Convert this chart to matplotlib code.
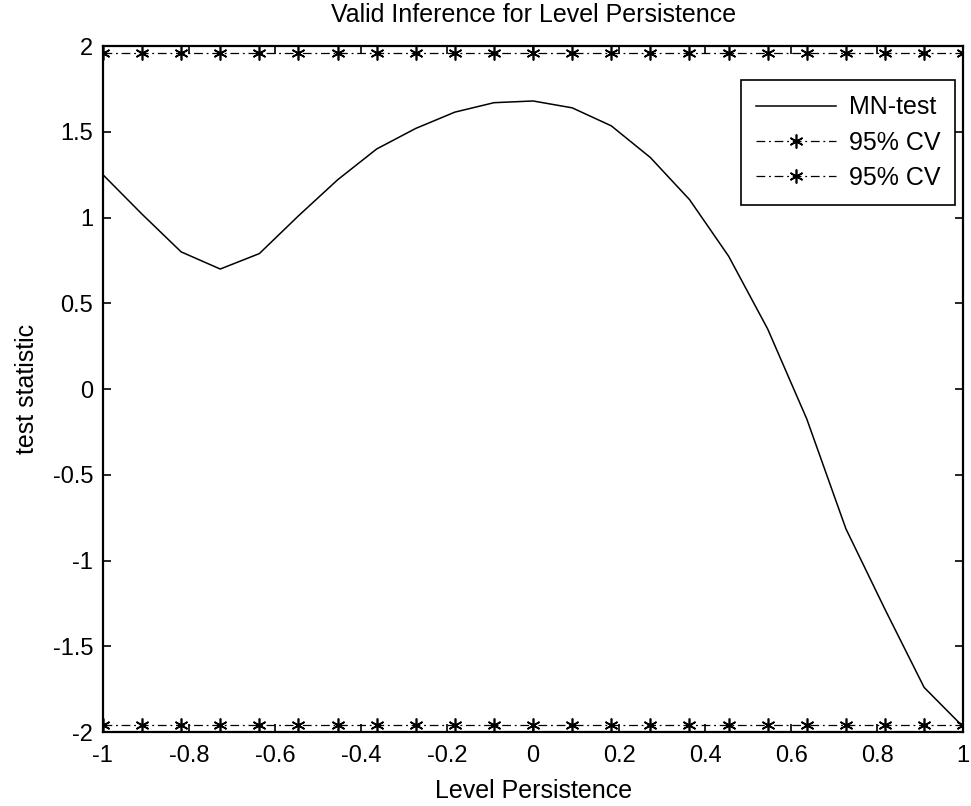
import numpy as np
import matplotlib
matplotlib.use('Agg')
import matplotlib.pyplot as plt

plt.rcParams['font.family'] = ['Liberation Sans', 'DejaVu Sans']

# ---------------------------------------------------------
# data (23 grid points on [-1, 1])
# ---------------------------------------------------------
rho = np.linspace(-1, 1, 23)
mn_test = [1.25, 1.02, 0.80, 0.70, 0.79, 1.01, 1.22, 1.40, 1.52, 1.615, 1.67,
           1.68, 1.64, 1.535, 1.35, 1.105, 0.775, 0.35, -0.175, -0.815,
           -1.285, -1.74, -1.97]
cv_upper = [1.96] * len(rho)
cv_lower = [-1.96] * len(rho)

x_ticks = [-1, -0.8, -0.6, -0.4, -0.2, 0, 0.2, 0.4, 0.6, 0.8, 1]
x_tick_labels = ['-1', '-0.8', '-0.6', '-0.4', '-0.2', '0', '0.2', '0.4', '0.6', '0.8', '1']
y_ticks = [-2, -1.5, -1, -0.5, 0, 0.5, 1, 1.5, 2]
y_tick_labels = ['-2', '-1.5', '-1', '-0.5', '0', '0.5', '1', '1.5', '2']

fig = plt.figure(figsize=(9.71, 8.06), dpi=100)
ax = fig.add_axes([0.106, 0.0918, 0.886, 0.851])

# matlab-ish dash-dot and asterisk marker
dashdot = (0, (7, 3, 1.5, 3))
asterisk = (6, 2, 0)

ax.plot(rho, mn_test, color='black', lw=1.1, label='MN-test')
ax.plot(rho, cv_upper, color='black', lw=0.9, ls=dashdot, marker=asterisk,
        markersize=10, markeredgewidth=1.2, label='95% CV')
ax.plot(rho, cv_lower, color='black', lw=0.9, ls=dashdot, marker=asterisk,
        markersize=10, markeredgewidth=1.2, label='95% CV')

ax.set_xlim(-1, 1)
ax.set_ylim(-2, 2)
ax.set_xticks(x_ticks)
ax.set_xticklabels(x_tick_labels)
ax.set_yticks(y_ticks)
ax.set_yticklabels(y_tick_labels)
ax.tick_params(direction='in', top=True, right=True, length=6, width=1.2,
               labelsize=17)
ax.tick_params(axis='x', pad=9)
ax.tick_params(axis='y', pad=7)
for side in ax.spines.values():
    side.set_linewidth(1.6)

ax.set_title('Valid Inference for Level Persistence', fontsize=18, pad=17)
ax.set_xlabel('Level Persistence', fontsize=18, labelpad=9)
ax.set_ylabel('test statistic', fontsize=18, labelpad=10)

leg = ax.legend(loc='upper right', bbox_to_anchor=(0.991, 0.95),
                borderaxespad=0, fontsize=18, fancybox=False,
                edgecolor='black', framealpha=1, handlelength=3.2,
                handletextpad=0.5, borderpad=0.6, labelspacing=0.45)
leg.get_frame().set_linewidth(1.2)

fig.savefig('out.png', dpi=100)
